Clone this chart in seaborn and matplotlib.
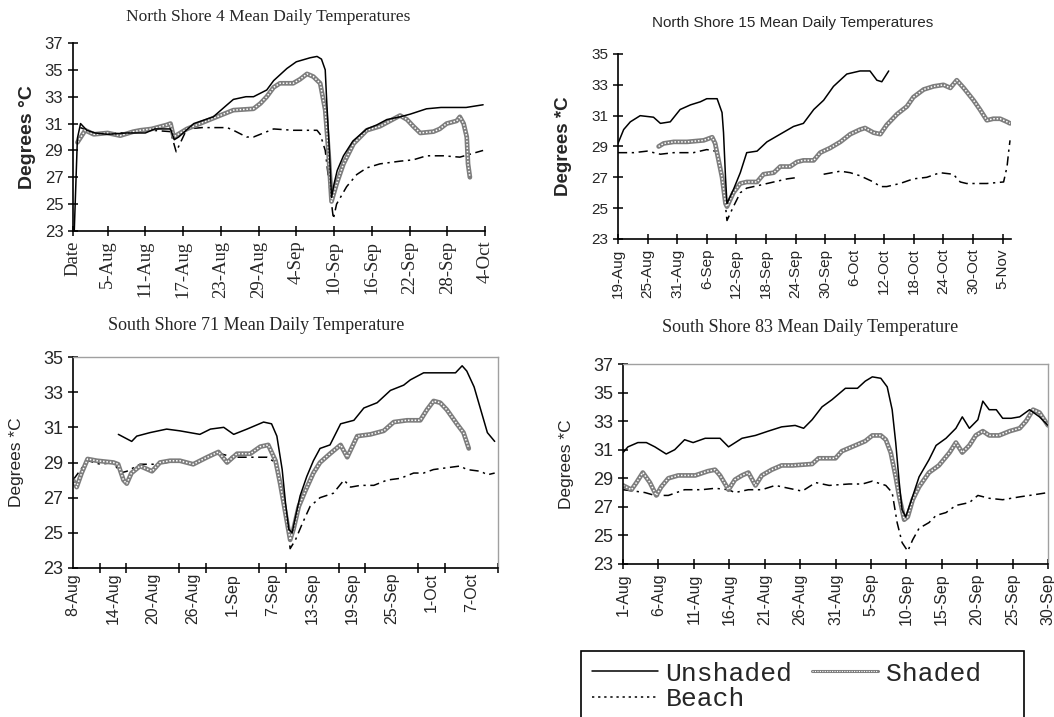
import numpy as np
import pandas as pd
import matplotlib
matplotlib.use("Agg")
import matplotlib.pyplot as plt
from matplotlib.lines import Line2D
from matplotlib.legend_handler import HandlerTuple
import seaborn as sns

# ---- North Shore 4 (x = day number counted from 0-Aug) ----
ns4_ticks = [-0.5, 5, 11, 17, 23, 29, 35, 41, 47, 53, 59, 65]
ns4_labels = ['Date', '5-Aug', '11-Aug', '17-Aug', '23-Aug', '29-Aug', '4-Sep',
              '10-Sep', '16-Sep', '22-Sep', '28-Sep', '4-Oct']
ns4_unshaded_day = [-0.3, 0.2, 0.7, 1.7, 3, 5, 8, 11, 12.5, 15, 15.6, 16.3, 18.7, 21.8,
                    24, 25, 27, 28.2, 30.3, 31.4, 33.5, 35, 37.2, 38.3, 39, 39.6, 39.8,
                    40.2, 40.6, 41, 41.5, 42.5, 44, 46.2, 47.8, 49.4, 51.5, 53.1, 55.7,
                    58, 62, 64.7]
ns4_unshaded_temp = [23.0, 29.9, 31.0, 30.5, 30.3, 30.2, 30.3, 30.3, 30.6, 30.6, 29.8,
                     30.0, 31.0, 31.5, 32.4, 32.8, 33.0, 33.0, 33.5, 34.2, 35.1, 35.6,
                     35.9, 36.0, 35.8, 35.0, 33.0, 29.5, 25.5, 26.5, 27.5, 28.6, 29.7,
                     30.6, 30.9, 31.3, 31.5, 31.7, 32.1, 32.2, 32.2, 32.4]
ns4_shaded_day = [0.2, 1.45, 2.8, 5, 7, 9.1, 10.2, 12, 14.4, 15.0, 15.5, 17.6, 19.7,
                  21.8, 23.4, 25.0, 28.2, 29.3, 30.3, 31.4, 32.4, 34.5, 35.6, 36.7,
                  37.7, 38.8, 39.6, 40.1, 40.6, 41.4, 42.5, 44.1, 46.2, 48.3, 49.9,
                  51.5, 52.6, 53.6, 54.7, 56.8, 57.8, 58.9, 60.5, 61.0, 61.6, 62.1,
                  62.3, 62.6]
ns4_shaded_temp = [29.6, 30.5, 30.2, 30.3, 30.1, 30.4, 30.5, 30.6, 30.9, 31.0, 30.0,
                   30.6, 31.0, 31.4, 31.7, 32.0, 32.1, 32.5, 33.0, 33.7, 34.0, 34.0,
                   34.3, 34.7, 34.5, 34.0, 32.0, 29.0, 25.2, 26.5, 28.0, 29.5, 30.5,
                   30.8, 31.2, 31.6, 31.3, 30.8, 30.3, 30.4, 30.6, 31.0, 31.2, 31.5,
                   31.0, 30.0, 28.0, 27.0]
ns4_beach_day = [0.66, 3, 8, 12, 15.0, 15.9, 17.6, 20, 24.0, 25.0, 27.1, 28.2, 29.8,
                 31.4, 34.5, 38.3, 38.8, 39.6, 40.1, 40.9, 41.4, 43.0, 44.6, 46.2,
                 48.3, 51.5, 53.6, 55.7, 58.4, 61.0, 64.7]
ns4_beach_temp = [30.7, 30.3, 30.3, 30.5, 30.4, 28.9, 30.6, 30.7, 30.7, 30.5, 30.0,
                  30.0, 30.3, 30.6, 30.5, 30.5, 30.2, 29.0, 27.0, 23.9, 25.0, 26.3,
                  27.2, 27.7, 28.0, 28.2, 28.3, 28.6, 28.6, 28.5, 29.0]

# ---- North Shore 15 (x = days after 19-Aug) ----
ns15_ticks = [0, 6, 12, 18, 24, 30, 36, 42, 48, 54, 60, 66, 72, 78]
ns15_labels = ['19-Aug', '25-Aug', '31-Aug', '6-Sep', '12-Sep', '18-Sep', '24-Sep',
               '30-Sep', '6-Oct', '12-Oct', '18-Oct', '24-Oct', '30-Oct', '5-Nov']
ns15_unshaded_day = [0, 1.15, 2.5, 4.5, 7.2, 8.6, 10.6, 12.6, 14.7, 16.7, 18.0, 20.1,
                     21.1, 21.4, 21.8, 22.1, 23.4, 24.8, 26.1, 28.2, 30.2, 32.9, 35.6,
                     37.6, 39.7, 41.7, 43.7, 46.4, 49.1, 51.1, 52.5, 53.5, 54.9]
ns15_unshaded_temp = [29.2, 30.1, 30.6, 31.0, 30.9, 30.5, 30.6, 31.4, 31.7, 31.9, 32.1,
                      32.1, 31.2, 29.9, 27.0, 25.3, 26.2, 27.3, 28.6, 28.7, 29.3, 29.8,
                      30.3, 30.5, 31.4, 32.0, 32.9, 33.7, 33.9, 33.9, 33.3, 33.2, 33.9]
ns15_shaded_day = [8.24, 9.26, 11.3, 14, 17.4, 19.1, 19.7, 20.4, 21.1, 21.8, 22.1, 23.4,
                   24.8, 26.1, 28.2, 29.5, 31.6, 32.9, 34.9, 36.3, 37.6, 39.7, 41.0,
                   43.0, 45.1, 47.1, 49.1, 50.1, 51.8, 53.2, 54.5, 56.6, 58.6, 59.9,
                   62.0, 64.0, 66.0, 67.4, 68.7, 70.1, 72.1, 73.4, 74.8, 76.1, 77.5,
                   78.9, 79.5]
ns15_shaded_temp = [29.0, 29.2, 29.3, 29.3, 29.4, 29.6, 29.2, 28.1, 27.0, 25.3, 25.1,
                    26.0, 26.6, 26.7, 26.7, 27.2, 27.3, 27.7, 27.7, 28.0, 28.1, 28.1,
                    28.6, 28.9, 29.3, 29.8, 30.1, 30.2, 29.9, 29.8, 30.4, 31.1, 31.6,
                    32.2, 32.7, 32.9, 33.0, 32.8, 33.3, 32.8, 32.0, 31.4, 30.7, 30.8,
                    30.8, 30.6, 30.5]
ns15_beach_day = [0, 3.2, 5.9, 8.6, 11.3, 15.3, 18.0, 19.7, 20.4, 21.4, 22.1, 23.4,
                  24.8, 26.1, 28.9, 31.6, 34.3, 36.6, 39.0, 41.7, 45.1, 47.1, 49.1,
                  51.8, 53.2, 54.5, 57.2, 59.9, 62.6, 65.3, 68.0, 69.4, 70.7, 74.8,
                  78.2, 78.9, 79.2, 79.5]
ns15_beach_temp = [28.6, 28.6, 28.7, 28.5, 28.6, 28.6, 28.8, 28.7, 28.1, 26.4, 24.2,
                   25.1, 26.0, 26.3, 26.5, 26.7, 26.9, 27.0, np.nan, 27.2, 27.4, 27.3,
                   27.1, 26.7, 26.4, 26.4, 26.6, 26.9, 27.0, 27.3, 27.2, 26.7, 26.6,
                   26.6, 26.7, 27.7, 28.6, 29.4]

# ---- South Shore 71 (x = days after 8-Aug) ----
ss71_ticks = [0, 6, 12, 18, 24, 30, 36, 42, 48, 54, 60]
ss71_labels = ['8-Aug', '14-Aug', '20-Aug', '26-Aug', '1-Sep', '7-Sep', '13-Sep',
               '19-Sep', '25-Sep', '1-Oct', '7-Oct']
ss71_unshaded_day = [6.83, 8.84, 9.6, 11.6, 14.1, 16.1, 19.1, 20.7, 22.7, 24.2, 26.2,
                     28.7, 29.9, 30.7, 31.5, 32.0, 32.5, 33.0, 33.5, 34.2, 35.2, 36.2,
                     37.2, 38.7, 40.3, 42.3, 43.8, 45.8, 47.8, 49.8, 50.8, 52.8, 54.3,
                     55.8, 57.6, 58.6, 59.3, 60.4, 61.4, 62.4, 63.5]
ss71_unshaded_temp = [30.6, 30.2, 30.5, 30.7, 30.9, 30.8, 30.6, 30.9, 31.0, 30.6, 30.9,
                      31.3, 31.2, 30.5, 28.6, 26.7, 25.2, 25.0, 25.9, 27.1, 28.2, 29.1,
                      29.8, 30.0, 31.2, 31.4, 32.1, 32.4, 33.1, 33.4, 33.7, 34.1, 34.1,
                      34.1, 34.1, 34.5, 34.2, 33.3, 32.0, 30.7, 30.2]
ss71_shaded_day = [0, 0.55, 1.3, 2.2, 3.6, 6.1, 6.8, 7.6, 8.1, 8.8, 10.1, 11.9, 13.1,
                   14.6, 16.1, 18.1, 20.2, 21.9, 23.2, 24.7, 26.7, 28.2, 29.4, 30.5,
                   31.2, 32.0, 32.7, 33.2, 34.0, 35.0, 36.2, 37.2, 38.7, 40.3, 41.3,
                   42.8, 44.8, 46.8, 48.3, 50.3, 52.3, 53.3, 54.3, 55.3, 56.3, 57.8,
                   58.8, 59.6]
ss71_shaded_temp = [28.0, 27.6, 28.4, 29.2, 29.1, 29.0, 28.9, 28.0, 27.8, 28.4, 28.8,
                    28.5, 29.0, 29.1, 29.1, 28.9, 29.3, 29.6, 29.0, 29.5, 29.5, 29.9,
                    30.0, 29.1, 27.8, 26.1, 24.6, 25.2, 26.5, 27.4, 28.4, 29.0, 29.5,
                    30.0, 29.3, 30.5, 30.6, 30.8, 31.3, 31.4, 31.4, 32.0, 32.5, 32.4,
                    32.0, 31.2, 30.7, 29.8]
ss71_beach_day = [0, 1.56, 2.3, 4.1, 6.1, 7.1, 8.1, 10.1, 12.1, 14.1, 16.1, 18.1, 20.2,
                  22.2, 24.2, 26.7, 29.2, 30.5, 31.2, 32.0, 32.7, 33.5, 34.5, 35.7,
                  37.2, 39.2, 40.8, 41.8, 43.3, 45.3, 47.3, 49.3, 51.3, 52.8, 54.3,
                  56.3, 58.3, 59.3, 61.4, 62.4, 63.5]
ss71_beach_temp = [28.0, 28.8, 29.1, 28.9, 29.0, 28.4, 28.5, 28.9, 28.9, 29.0, 29.1,
                   28.9, 29.3, 29.5, 29.3, 29.3, 29.3, 29.0, 28.0, 26.3, 24.1, 24.6,
                   25.5, 26.5, 27.0, 27.25, 28.0, 27.6, 27.7, 27.7, 28.0, 28.1, 28.4,
                   28.4, 28.6, 28.7, 28.8, 28.6, 28.5, 28.3, 28.4]

# ---- South Shore 83 (x = days after 1-Aug) ----
ss83_ticks = [0, 5, 10, 15, 20, 25, 30, 35, 40, 45, 50, 55, 60]
ss83_labels = ['1-Aug', '6-Aug', '11-Aug', '16-Aug', '21-Aug', '26-Aug', '31-Aug',
               '5-Sep', '10-Sep', '15-Sep', '20-Sep', '25-Sep', '30-Sep']
ss83_unshaded_day = [0, 0.7, 2.1, 3.3, 4.5, 6.1, 7.3, 8.7, 9.9, 11.6, 13.7, 14.9, 16.8,
                     18.7, 20.5, 22.4, 24.3, 25.5, 26.7, 28.1, 29.5, 31.4, 33.1, 34.2,
                     35.2, 36.4, 37.3, 38.0, 38.5, 39.0, 39.4, 39.9, 40.6, 41.8, 43.2,
                     44.2, 45.6, 47.0, 47.9, 48.9, 50.1, 50.8, 51.7, 52.7, 53.6, 54.8,
                     56.0, 57.4, 58.8, 60.0]
ss83_unshaded_temp = [30.8, 31.2, 31.5, 31.5, 31.2, 30.7, 31.0, 31.7, 31.5, 31.8, 31.8,
                      31.2, 31.8, 32.0, 32.3, 32.6, 32.7, 32.5, 33.1, 34.0, 34.5, 35.3,
                      35.3, 35.8, 36.1, 36.0, 35.4, 33.8, 31.5, 28.7, 26.8, 26.3, 27.3,
                      29.1, 30.3, 31.3, 31.8, 32.5, 33.3, 32.5, 33.1, 34.4, 33.8, 33.8,
                      33.2, 33.2, 33.3, 33.8, 33.3, 32.7]
ss83_shaded_day = [0, 1.2, 1.9, 2.8, 3.8, 4.7, 5.4, 6.4, 7.8, 10.2, 12.0, 13.0, 13.7,
                   14.9, 15.8, 16.8, 17.7, 18.7, 19.6, 21.0, 22.4, 23.9, 26.7, 27.6,
                   30.0, 30.9, 32.8, 34.2, 35.2, 36.4, 37.1, 37.8, 38.5, 39.0, 39.7,
                   40.2, 40.9, 41.8, 43.2, 44.6, 46.1, 47.0, 47.9, 48.9, 49.8, 50.8,
                   51.7, 53.1, 54.6, 56.0, 56.9, 57.9, 58.8, 60.0]
ss83_shaded_temp = [28.5, 28.2, 28.7, 29.4, 28.7, 27.8, 28.4, 29.0, 29.2, 29.2, 29.5,
                    29.6, 29.2, 28.2, 28.9, 29.2, 29.4, 28.5, 29.2, 29.6, 29.9, 29.9,
                    30.0, 30.4, 30.4, 30.9, 31.3, 31.6, 32.0, 32.0, 31.7, 30.8, 29.1,
                    27.7, 26.1, 26.3, 27.5, 28.4, 29.4, 29.9, 30.8, 31.5, 30.8, 31.3,
                    32.0, 32.3, 32.0, 32.0, 32.3, 32.5, 33.0, 33.8, 33.6, 32.7]
ss83_beach_day = [0, 1.65, 3.1, 4.5, 6.4, 8.7, 11.1, 13.0, 14.9, 15.8, 17.7, 19.6,
                  21.5, 23.4, 25.3, 27.2, 29.1, 31.9, 33.8, 35.2, 37.1, 38.0, 38.7,
                  39.4, 40.2, 40.9, 41.8, 43.2, 44.2, 45.6, 47.0, 48.9, 50.1, 51.7,
                  53.6, 56.0, 57.4, 60.0]
ss83_beach_temp = [28.2, 28.1, 28.0, 27.8, 27.8, 28.2, 28.2, 28.3, 28.2, 28.0, 28.2,
                   28.2, 28.5, 28.3, 28.1, 28.7, 28.5, 28.6, 28.6, 28.8, 28.5, 28.0,
                   25.9, 24.5, 23.9, 24.7, 25.5, 25.9, 26.4, 26.6, 27.1, 27.3, 27.8,
                   27.6, 27.5, 27.7, 27.8, 28.0]

SERIES_STYLE = {
    'Unshaded': dict(color='black', lw=1.1, ls='-'),
    'Shaded': dict(color='#7d7d7d', lw=3.4, ls='-'),
    'Beach': dict(color='black', lw=1.1, ls=(0, (6, 3, 1.5, 3))),
}

sns.set_theme(style="white")
plt.rcParams['font.family'] = ['Liberation Sans', 'DejaVu Sans']

fig = plt.figure(figsize=(10.54, 7.17), dpi=100)


def draw(ax, day, temp, name):
    df = pd.DataFrame({'day': day, 'temp': temp})
    df['seg'] = df['temp'].isna().cumsum()
    df = df.dropna()
    st = SERIES_STYLE[name]
    sns.lineplot(data=df, x='day', y='temp', units='seg', estimator=None, sort=False,
                 ax=ax, color=st['color'], linewidth=st['lw'], linestyle=st['ls'])
    if name == 'Shaded':
        # checkered look of the original: white dots over the grey band
        sns.lineplot(data=df, x='day', y='temp', units='seg', estimator=None,
                     sort=False, ax=ax, color='white', linewidth=1.1,
                     linestyle=(0, (1, 1.2)))


def style_axes(ax, xlim, ylim, boxed, ylabel, ylab_weight, ylab_size, ylab_pad,
               tick_font, ytick_size, xtick_font, xtick_size):
    ax.set_xlim(*xlim)
    ax.set_ylim(*ylim)
    ax.set_yticks(range(ylim[0], ylim[1] + 1, 2))
    ax.set_xlabel('')
    ax.set_ylabel(ylabel, fontsize=ylab_size, fontweight=ylab_weight,
                  family=['Liberation Sans', 'DejaVu Sans'], labelpad=ylab_pad)
    for s in ['left', 'bottom']:
        ax.spines[s].set_color('black')
        ax.spines[s].set_linewidth(1.2)
    for s in ['top', 'right']:
        if boxed:
            ax.spines[s].set_color('#a0a0a0')
            ax.spines[s].set_linewidth(1.0)
        else:
            ax.spines[s].set_visible(False)
    ax.tick_params(axis='both', which='both', direction='inout', length=7, width=1.1,
                   color='black', bottom=True, left=True)
    for lab in ax.get_yticklabels():
        lab.set_family(tick_font)
        lab.set_fontsize(ytick_size)
    for lab in ax.get_xticklabels():
        lab.set_family(xtick_font)
        lab.set_fontsize(xtick_size)
        lab.set_rotation(90)
    ax.grid(False)


W, H = 1054, 717


def axes_px(l, t, r, b):
    return fig.add_axes([l / W, 1 - b / H, (r - l) / W, (b - t) / H])


serif = ['Liberation Serif', 'DejaVu Serif']
sans = ['Liberation Sans', 'DejaVu Sans']
narrow = ['Liberation Sans Narrow', 'Liberation Sans', 'DejaVu Sans']

# Panel 1
ax1 = axes_px(73, 43, 485, 231)
draw(ax1, ns4_beach_day, ns4_beach_temp, 'Beach')
draw(ax1, ns4_shaded_day, ns4_shaded_temp, 'Shaded')
draw(ax1, ns4_unshaded_day, ns4_unshaded_temp, 'Unshaded')
ax1.set_xticks(ns4_ticks)
ax1.set_xticklabels(ns4_labels)
style_axes(ax1, (-0.5, 65), (23, 37), False, 'Degrees \u00b0C', 'bold', 14, 6,
           narrow, 12, serif, 13.5)

# Panel 2
ax2 = axes_px(618, 54, 1011, 239)
draw(ax2, ns15_beach_day, ns15_beach_temp, 'Beach')
draw(ax2, ns15_shaded_day, ns15_shaded_temp, 'Shaded')
draw(ax2, ns15_unshaded_day, ns15_unshaded_temp, 'Unshaded')
ax2.set_xticks(ns15_ticks)
ax2.set_xticklabels(ns15_labels)
style_axes(ax2, (0, 79.7), (23, 35), False, 'Degrees *C', 'bold', 13.5, 14, sans, 11,
           sans, 11)

# Panel 3
ax3 = axes_px(73, 357, 498, 568)
draw(ax3, ss71_beach_day, ss71_beach_temp, 'Beach')
draw(ax3, ss71_shaded_day, ss71_shaded_temp, 'Shaded')
draw(ax3, ss71_unshaded_day, ss71_unshaded_temp, 'Unshaded')
ax3.set_xticks(ss71_ticks)
ax3.set_xticklabels(ss71_labels)
ax3.set_xticks(range(0, 65, 4), minor=True)
style_axes(ax3, (0, 64), (23, 35), True, 'Degrees *C', 'normal', 12.5, 14, sans, 13,
           sans, 11.5)
ax3.tick_params(axis='x', which='major', length=0)

# Panel 4
ax4 = axes_px(623, 364, 1048, 564)
draw(ax4, ss83_beach_day, ss83_beach_temp, 'Beach')
draw(ax4, ss83_shaded_day, ss83_shaded_temp, 'Shaded')
draw(ax4, ss83_unshaded_day, ss83_unshaded_temp, 'Unshaded')
ax4.set_xticks(ss83_ticks)
ax4.set_xticklabels(ss83_labels)
style_axes(ax4, (0, 60), (23, 37), True, 'Degrees *C', 'normal', 12.5, 14, sans, 13,
           sans, 11.5)

# Titles
fig.text(268 / W, 1 - 17 / H, 'North Shore 4 Mean Daily Temperatures', ha='center',
         va='center', fontsize=12.5, family=serif)
fig.text(793 / W, 1 - 23 / H, 'North Shore 15 Mean Daily Temperatures', ha='center',
         va='center', fontsize=11, family=sans)
fig.text(256 / W, 1 - 325 / H, 'South Shore 71 Mean Daily Temperature', ha='center',
         va='center', fontsize=13, family=serif)
fig.text(810 / W, 1 - 328 / H, 'South Shore 83 Mean Daily Temperature', ha='center',
         va='center', fontsize=13, family=serif)

# Legend
shaded_handle = (Line2D([], [], color='#7d7d7d', lw=2.2, ls='-'),
                 Line2D([], [], color='white', lw=0.8, ls=(0, (1, 1.2))))
handles = [
    Line2D([], [], color='black', lw=1.1, ls='-'),
    Line2D([], [], color='black', lw=1.1, ls=(0, (1.5, 2.5))),
    shaded_handle,
]
leg = fig.legend(handles, ['Unshaded', 'Beach', 'Shaded  '], ncol=2,
                 handler_map={tuple: HandlerTuple(ndivide=1, pad=0)},
                 loc='upper left', bbox_to_anchor=(581 / W, 1 - 651 / H),
                 borderaxespad=0, frameon=True, fancybox=False, edgecolor='black',
                 framealpha=1,
                 prop={'family': ['Liberation Mono', 'DejaVu Sans Mono'], 'size': 19},
                 handlelength=2.5, handletextpad=0.3, columnspacing=0.75,
                 labelspacing=0.05, borderpad=0.4)
leg.get_frame().set_linewidth(1.2)

fig.savefig('out.png', dpi=100)
